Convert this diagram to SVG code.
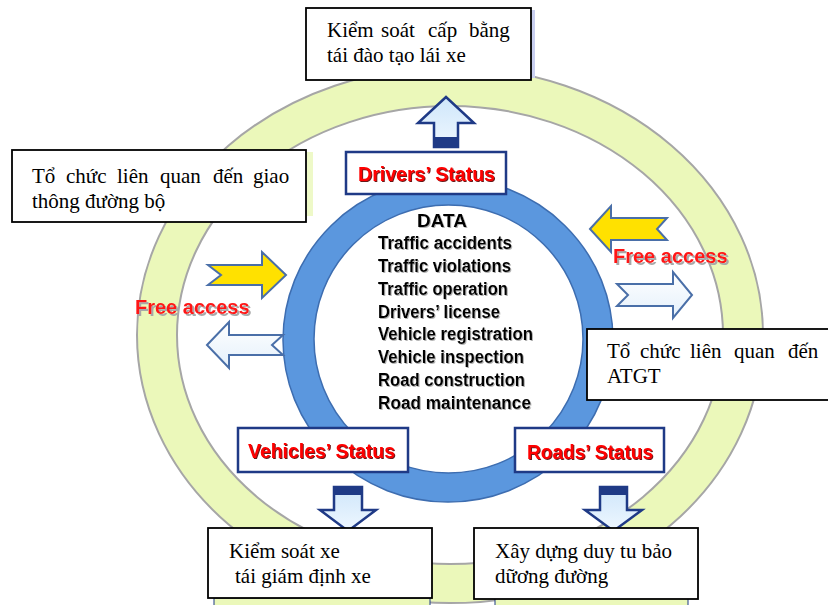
<svg xmlns="http://www.w3.org/2000/svg" width="828" height="605" viewBox="0 0 828 605">
<defs>
<linearGradient id="gBlueArrow" x1="0" y1="0" x2="0" y2="1">
<stop offset="0" stop-color="#CFE6FA"/><stop offset="1" stop-color="#EEF7FF"/>
</linearGradient>
<linearGradient id="gWhiteArrow" x1="0" y1="0" x2="0" y2="1">
<stop offset="0" stop-color="#FFFFFF"/><stop offset="1" stop-color="#E4F0FB"/>
</linearGradient>
<filter id="shDark" x="-5%" y="-20%" width="115%" height="150%">
<feDropShadow dx="1" dy="1" stdDeviation="0.4" flood-color="#5A0000" flood-opacity="0.9"/>
</filter>
<filter id="shGray" x="-5%" y="-20%" width="115%" height="150%">
<feDropShadow dx="2" dy="2" stdDeviation="0.6" flood-color="#A8A8A8" flood-opacity="1"/>
</filter>
<filter id="shData" x="-5%" y="-20%" width="115%" height="150%">
<feDropShadow dx="1" dy="1" stdDeviation="0.5" flood-color="#808080" flood-opacity="0.6"/>
</filter>
</defs>
<style>
.box{fill:#FFFFFF;stroke:#000000;stroke-width:1.8}
.sbox{fill:#FFFFFF;stroke:#1F3A86;stroke-width:2.5}
.vn{font-family:"Liberation Serif","Times New Roman",serif;font-size:21px;fill:#000000}
.st{font-family:"Liberation Sans",Arial,sans-serif;font-weight:bold;font-size:20px;fill:#FF0000;filter:url(#shDark)}
.data{font-family:"Liberation Sans",Arial,sans-serif;font-weight:bold;font-size:18px;fill:#000000;filter:url(#shData)}
.fa{font-family:"Liberation Sans",Arial,sans-serif;font-weight:bold;font-size:20px;fill:#FF1414;filter:url(#shGray)}
.varrow{fill:url(#gBlueArrow);stroke:#1F3A86;stroke-width:2.5;stroke-linejoin:miter}
.navy{fill:#1F3A86}
.yarrow{fill:#FFE100;stroke:#4A6FA8;stroke-width:2}
.warrow{fill:url(#gWhiteArrow);stroke:#4A6FA8;stroke-width:2}
</style>
<rect width="828" height="605" fill="#FFFFFF"/>

<!-- outer green ring -->
<path d="M137,335 a313,268 0 1,0 626,0 a313,268 0 1,0 -626,0 Z M177,335 a273,229 0 1,0 546,0 a273,229 0 1,0 -546,0 Z" fill="#EBF8BA" fill-rule="evenodd" stroke="#A6A6A6" stroke-width="2"/>

<!-- inner blue ring -->
<path d="M283,340 a165,162 0 1,0 330,0 a165,162 0 1,0 -330,0 Z M314,339 a134.5,134 0 1,0 269,0 a134.5,134 0 1,0 -269,0 Z" fill="#5B97DE" fill-rule="evenodd" stroke="#3D6DB0" stroke-width="1.5"/>

<!-- DATA list -->
<g id="data">
<text class="data" x="417" y="227" textLength="50" lengthAdjust="spacingAndGlyphs">DATA</text>
<text class="data" x="378" y="249" textLength="134" lengthAdjust="spacingAndGlyphs">Traffic accidents</text>
<text class="data" x="378" y="272" textLength="133" lengthAdjust="spacingAndGlyphs">Traffic violations</text>
<text class="data" x="378" y="295" textLength="130" lengthAdjust="spacingAndGlyphs">Traffic operation</text>
<text class="data" x="378" y="318" textLength="122" lengthAdjust="spacingAndGlyphs">Drivers’ license</text>
<text class="data" x="378" y="340" textLength="155" lengthAdjust="spacingAndGlyphs">Vehicle registration</text>
<text class="data" x="378" y="363" textLength="146" lengthAdjust="spacingAndGlyphs">Vehicle inspection</text>
<text class="data" x="378" y="386" textLength="147" lengthAdjust="spacingAndGlyphs">Road construction</text>
<text class="data" x="378" y="409" textLength="153" lengthAdjust="spacingAndGlyphs">Road maintenance</text>
</g>

<!-- connectors -->
<g id="connectors">
<polygon class="varrow" points="434,147 434,123 418,123 446,97 474,123 458,123 458,147"/>
<rect class="navy" x="433" y="137" width="26" height="11"/>
<polygon class="varrow" points="334,487 362,487 362,510 376,510 348,531 320,510 334,510"/>
<rect class="navy" x="333" y="486" width="30" height="9"/>
<polygon class="varrow" points="600,487 627,487 627,510 642,510 613.5,531 585,510 600,510"/>
<rect class="navy" x="599" y="486" width="29" height="9"/>
<polygon class="yarrow" points="208,265 262,265 262,252 286,275 262,298 262,285 208,285 221,275"/>
<polygon class="warrow" points="207,345 229,322 229,335 283,335 272,345 283,355 229,355 229,368"/>
<polygon class="yarrow" points="590,229 611,206 611,218 667,218 657,229 667,240 611,240 611,252"/>
<polygon class="warrow" points="617,284 673,284 673,272 692,295 673,318 673,306 617,306 628,295"/>
</g>

<!-- Free access labels -->
<g id="free-left">
<text class="fa" x="135" y="314">Free access</text>
</g>
<g id="free-right">
<text class="fa" x="613" y="263">Free access</text>
</g>

<!-- status nodes -->
<g id="drivers-status">
<rect class="sbox" x="346" y="152" width="160" height="42"/>
<text class="st" x="358" y="181" textLength="137" lengthAdjust="spacingAndGlyphs">Drivers’ Status</text>
</g>
<g id="vehicles-status">
<rect class="sbox" x="238" y="428" width="170" height="44"/>
<text class="st" x="248" y="458" textLength="147" lengthAdjust="spacingAndGlyphs">Vehicles’ Status</text>
</g>
<g id="roads-status">
<rect class="sbox" x="515" y="428" width="149" height="44"/>
<text class="st" x="527" y="459" textLength="126" lengthAdjust="spacingAndGlyphs">Roads’ Status</text>
</g>

<!-- text boxes -->
<g id="box-top">
<rect x="531" y="10" width="4" height="68" fill="#C9CFF0"/>
<rect class="box" x="306" y="8" width="225" height="72"/>
<text class="vn" y="37"><tspan x="327">Kiểm</tspan><tspan x="381">soát</tspan><tspan x="428">cấp</tspan><tspan x="469">bằng</tspan></text>
<text class="vn" x="327" y="62">tái đào tạo lái xe</text>
</g>
<g id="box-left">
<rect x="307" y="152" width="6" height="64" fill="#EEF9C8"/>
<rect class="box" x="12" y="150" width="294" height="72"/>
<text class="vn" y="183"><tspan x="32">Tổ</tspan><tspan x="66">chức</tspan><tspan x="117">liên</tspan><tspan x="160">quan</tspan><tspan x="213">đến</tspan><tspan x="253">giao</tspan></text>
<text class="vn" x="32" y="208">thông đường bộ</text>
</g>
<g id="box-right">
<rect class="box" x="587" y="329" width="250" height="71"/>
<text class="vn" y="358"><tspan x="607">Tổ</tspan><tspan x="640">chức</tspan><tspan x="690">liên</tspan><tspan x="734">quan</tspan><tspan x="788">đến</tspan></text>
<text class="vn" x="607" y="383">ATGT</text>
</g>
<g id="box-vehicles">
<rect x="214" y="598" width="216" height="8" fill="#EBF8BA" stroke="#1F3A86" stroke-width="1"/>
<rect class="box" x="208" y="528" width="224" height="70"/>
<text class="vn" x="229" y="558">Kiểm soát xe</text>
<text class="vn" x="235" y="583">tái giám định xe</text>
</g>
<g id="box-roads">
<rect x="495" y="598" width="193" height="8" fill="#EBF8BA" stroke="#1F3A86" stroke-width="1"/>
<rect class="box" x="474" y="528" width="224" height="71"/>
<text class="vn" x="495" y="558">Xây dựng duy tu bảo</text>
<text class="vn" x="495" y="583">dữơng đường</text>
</g>
</svg>
